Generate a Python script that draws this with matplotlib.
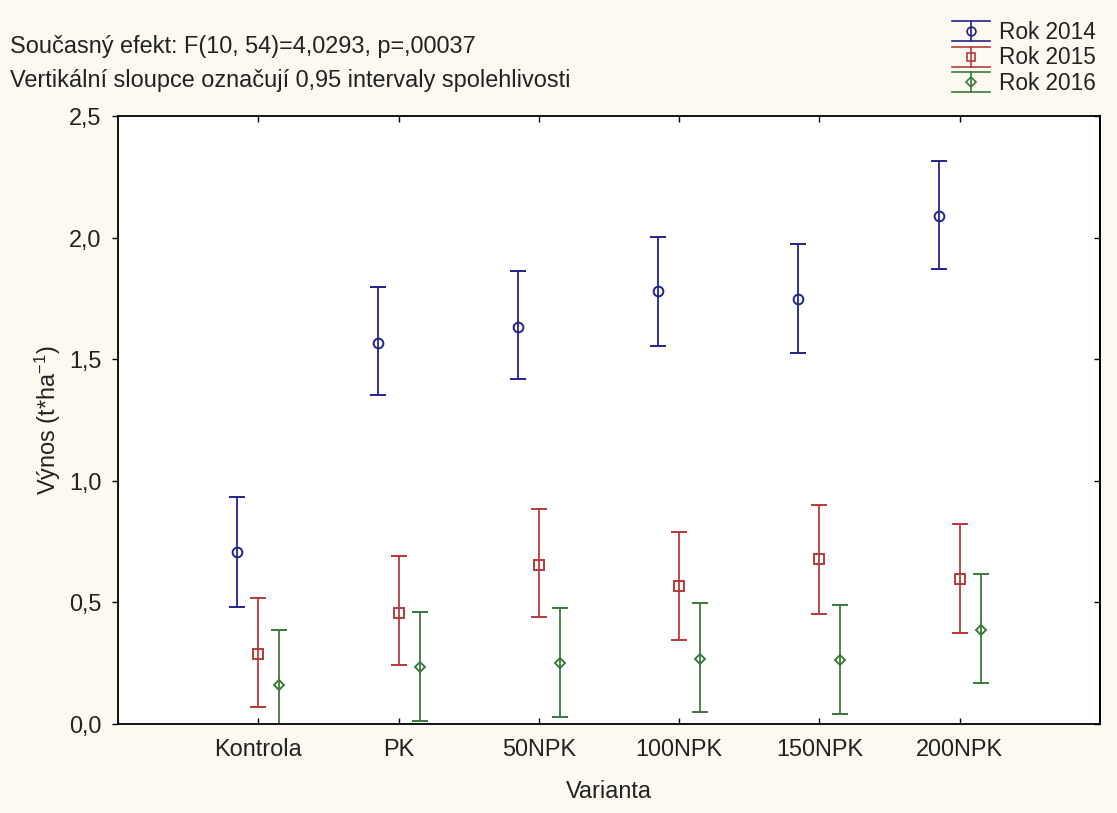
import matplotlib
matplotlib.use("Agg")
import matplotlib.pyplot as plt
import numpy as np
from matplotlib.lines import Line2D
from matplotlib.legend_handler import HandlerBase

plt.rcParams['font.family'] = ['Liberation Sans', 'DejaVu Sans']
plt.rcParams['mathtext.fontset'] = 'custom'
plt.rcParams['mathtext.rm'] = 'Liberation Sans'
plt.rcParams['mathtext.default'] = 'regular'

categories = ['Kontrola', 'PK', '50NPK', '100NPK', '150NPK', '200NPK']
series_labels = ['Rok 2014', 'Rok 2015', 'Rok 2016']

mean_2014 = [0.708, 1.565, 1.632, 1.779, 1.749, 2.088]
low_2014 = [0.483, 1.351, 1.417, 1.554, 1.527, 1.871]
high_2014 = [0.932, 1.797, 1.863, 2.003, 1.973, 2.317]

mean_2015 = [0.288, 0.458, 0.655, 0.566, 0.677, 0.597]
low_2015 = [0.071, 0.242, 0.439, 0.345, 0.454, 0.373]
high_2015 = [0.518, 0.689, 0.886, 0.791, 0.901, 0.821]

mean_2016 = [0.161, 0.236, 0.250, 0.269, 0.262, 0.387]
low_2016 = [-0.065, 0.014, 0.028, 0.048, 0.042, 0.168]
high_2016 = [0.387, 0.460, 0.476, 0.498, 0.489, 0.617]

yticks = [0.0, 0.5, 1.0, 1.5, 2.0, 2.5]
ytick_labels = ['0,0', '0,5', '1,0', '1,5', '2,0', '2,5']

title_line1 = 'Současný efekt: F(10, 54)=4,0293, p=,00037'
title_line2 = 'Vertikální sloupce označují 0,95 intervaly spolehlivosti'

colors = ['#23238C', '#B83A3A', '#3B7A3B']
markers = ['o', 's', 'D']
msizes = [7.0, 6.5, 5.5]
offsets = [-0.15, 0.0, 0.15]
FS = 16.9

fig = plt.figure(figsize=(11.17, 8.13), dpi=100)
fig.patch.set_facecolor('#FCFAF0')
ax = fig.add_axes([118/1117, 1-724/813, (1100-118)/1117, (724-116)/813])
ax.set_facecolor('white')

x = np.arange(len(categories))
all_series = [(mean_2014, low_2014, high_2014),
              (mean_2015, low_2015, high_2015),
              (mean_2016, low_2016, high_2016)]
handles = []
for i, (m, lo, hi) in enumerate(all_series):
    m = np.array(m); lo = np.array(lo); hi = np.array(hi)
    ax.errorbar(x + offsets[i], m, yerr=[m - lo, hi - m], fmt=markers[i],
                color=colors[i], mfc='none', mec=colors[i], ms=msizes[i], mew=1.4,
                ecolor=colors[i], elinewidth=1.3, capsize=5.8, capthick=1.3)
    handles.append(Line2D([], [], color=colors[i], marker=markers[i],
                          ms=msizes[i] * 0.9, label=series_labels[i]))

ax.set_xlim(-1, 6)
ax.set_ylim(0, 2.5)
ax.set_xticks(x)
ax.set_xticklabels(categories, fontsize=FS, color='#222222')
ax.set_yticks(yticks)
ax.set_yticklabels(ytick_labels, fontsize=FS, color='#222222')
ax.tick_params(axis='x', direction='in', top=True, bottom=True, length=4, width=1, pad=10)
ax.tick_params(axis='y', direction='out', left=True, right=False, length=4, width=1, pad=8)
for s in ax.spines.values():
    s.set_linewidth(1.3)
    s.set_color('black')

sec = ax.secondary_yaxis('right')
sec.set_yticks(yticks)
sec.tick_params(direction='in', length=4, width=1, labelright=False)
sec.spines['right'].set_linewidth(1.3)

ax.set_xlabel('Varianta', fontsize=FS, color='#222222')
ax.xaxis.set_label_coords(0.5, -0.092)
ax.set_ylabel('Výnos (t*ha$^{-1}$)', fontsize=FS, color='#222222')
ax.yaxis.set_label_coords(-0.056, 0.5)

fig.text(10/1117, 1-47/813, title_line1, fontsize=FS, va='center', ha='left', color='#222222')
fig.text(10/1117, 1-80/813, title_line2, fontsize=FS, va='center', ha='left', color='#222222')


class HandlerCI(HandlerBase):
    def create_artists(self, legend, orig_handle, xdescent, ydescent, width, height,
                       fontsize, trans):
        c = orig_handle.get_color()
        x0 = -xdescent
        x1 = x0 + width
        xm = (x0 + x1) / 2
        y0 = -ydescent
        y1 = y0 + height
        ym = (y0 + y1) / 2
        arts = [Line2D([x0, x1], [y1, y1], color=c, lw=1.2),
                Line2D([x0, x1], [y0, y0], color=c, lw=1.2),
                Line2D([xm, xm], [y0, y1], color=c, lw=1.2),
                Line2D([xm], [ym], marker=orig_handle.get_marker(),
                       ms=orig_handle.get_markersize(), mfc='none', mec=c, mew=1.2, ls='none')]
        for a in arts:
            a.set_transform(trans)
        return arts


leg = fig.legend(handles=handles, handler_map={Line2D: HandlerCI()},
                 loc='upper right', bbox_to_anchor=(0.981, 0.974), frameon=False,
                 fontsize=16.3, handlelength=1.68, handleheight=0.97, labelspacing=0.1,
                 handletextpad=0.38, borderpad=0, borderaxespad=0)
for t in leg.get_texts():
    t.set_color('#222222')

fig.savefig('out.png', dpi=100, facecolor=fig.get_facecolor())
